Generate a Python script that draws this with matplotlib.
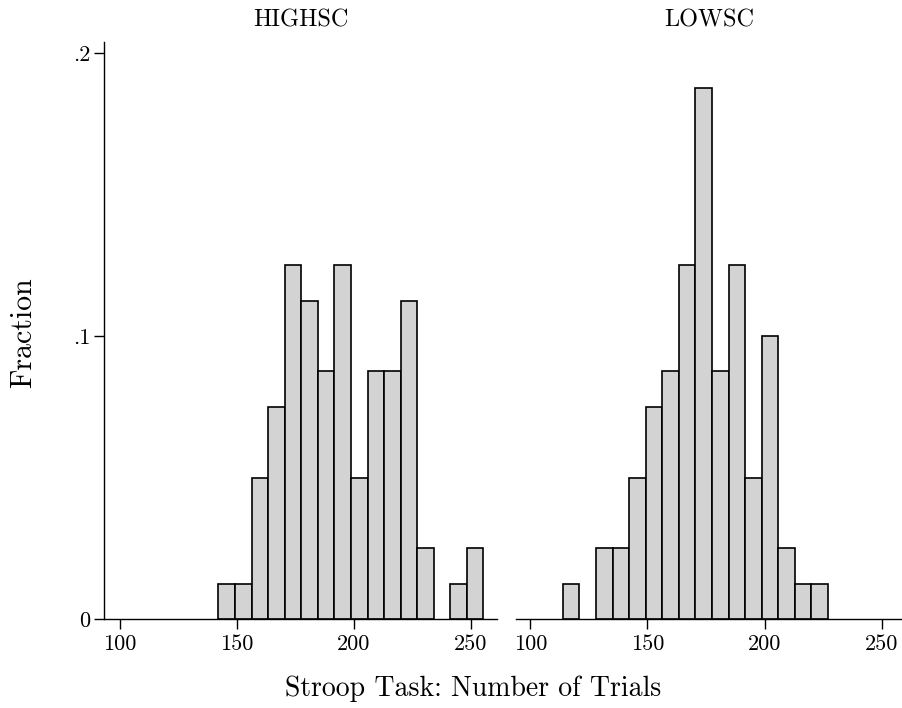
import numpy as np
import matplotlib
matplotlib.use("Agg")
import matplotlib.pyplot as plt

plt.rcParams['font.family'] = ['cmr10', 'DejaVu Serif']
plt.rcParams['axes.formatter.use_mathtext'] = True

# histogram bins shared by both groups (start, width, count of bins)
bin_start = 113.9
bin_width = 7.07
n_bins = 20

groups = ["HIGHSC", "LOWSC"]
# counts per bin, 80 subjects per group
high_counts = [0, 0, 0, 0, 1, 1, 4, 6, 10, 9, 7, 10, 4, 7, 7, 9, 2, 0, 1, 2]
low_counts = [1, 0, 2, 2, 4, 6, 7, 10, 15, 7, 10, 4, 8, 2, 1, 1, 0, 0, 0, 0]

x_ticks = [100, 150, 200, 250]
y_ticks = [0, 0.1, 0.2]
y_labels = ["0", ".1", ".2"]

edges = bin_start + bin_width*np.arange(n_bins+1)

fig = plt.figure(figsize=(9.03, 7.08), dpi=100)
W, H = 903., 708.
# panel pixel boxes: left, right, top, bottom
boxes = [(104, 497, 41.7, 619), (515.7, 903, 41.7, 619)]
xlims = [(93.3, 261.1), (93.8, 259.0)]

for i, (name, counts) in enumerate(zip(groups, [high_counts, low_counts])):
	l, r, t, b = boxes[i]
	ax = fig.add_axes([l/W, 1-b/H, (r-l)/W, (b-t)/H])
	counts = np.array(counts, dtype=float)
	frac = counts/counts.sum()
	keep = counts > 0
	ax.bar(edges[:-1][keep], frac[keep], width=bin_width, align='edge',
		color='#d3d3d3', edgecolor='black', linewidth=1.2)
	ax.set_xlim(*xlims[i])
	ax.set_ylim(0, 0.204)
	ax.set_xticks(x_ticks)
	ax.set_xticklabels([str(v) for v in x_ticks], fontsize=16)
	ax.tick_params(axis='x', length=7, width=1, pad=4)
	for s in ['top', 'right']:
		ax.spines[s].set_visible(False)
	ax.spines['bottom'].set_linewidth(1)
	if i == 0:
		ax.set_yticks(y_ticks)
		ax.set_yticklabels(y_labels, fontsize=16)
		ax.tick_params(axis='y', length=7, width=1, pad=3)
		ax.spines['left'].set_linewidth(1)
	else:
		ax.spines['left'].set_visible(False)
		ax.set_yticks([])
	ax.set_title(name, fontsize=17.5, pad=11)

fig.text(473/W, 1-689/H, "Stroop Task: Number of Trials", fontsize=20,
	ha='center', va='center')
fig.text(23/W, 1-333/H, "Fraction", fontsize=21.5, rotation=90,
	ha='center', va='center')

fig.savefig("out.png", dpi=100)
